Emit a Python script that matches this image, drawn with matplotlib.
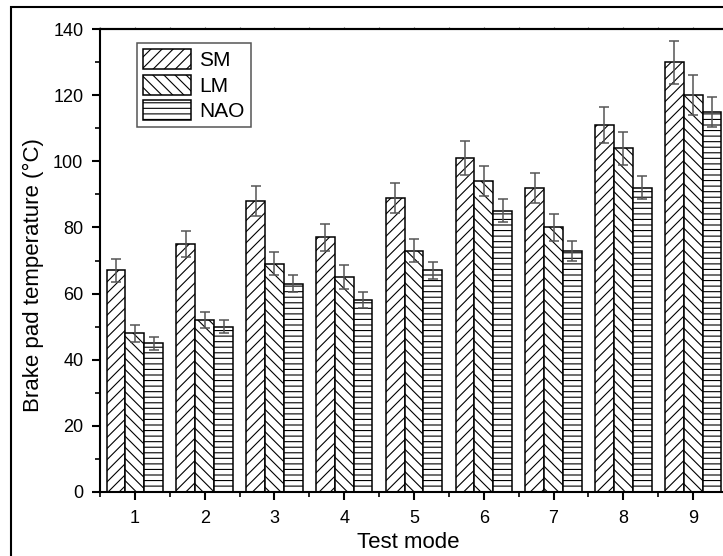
import matplotlib
matplotlib.use("Agg")
import matplotlib.pyplot as plt
import numpy as np
from matplotlib.patches import Rectangle
from matplotlib.ticker import MultipleLocator, FixedLocator

plt.rcParams['font.family'] = ['Liberation Sans', 'DejaVu Sans']
plt.rcParams['hatch.linewidth'] = 0.8

modes = [1, 2, 3, 4, 5, 6, 7, 8, 9]
series = ['SM', 'LM', 'NAO']
sm = [67, 75, 88, 77, 89, 101, 92, 111, 130]
lm = [48, 52, 69, 65, 73, 94, 80, 104, 120]
nao = [45, 50, 63, 58, 67, 85, 73, 92, 115]
sm_err = [3.5, 4, 4.5, 4, 4.5, 5, 4.5, 5.5, 6.5]
lm_err = [2.5, 2.5, 3.5, 3.5, 3.5, 4.5, 4, 5, 6]
nao_err = [2, 2, 2.5, 2.5, 2.5, 3.5, 3, 3.5, 4.5]

W, H = 723, 556
fig = plt.figure(figsize=(W / 100, H / 100), dpi=100)
L, R, T, B = 100, 728, 29, 492
ax = fig.add_axes([L / W, 1 - B / H, (R - L) / W, (B - T) / H])

x = np.array(modes, dtype=float)
bw = 0.27
hatches = ['///', '\\\\\\', '---']
vals = [sm, lm, nao]
errs = [sm_err, lm_err, nao_err]
for i, (name, v, e, h) in enumerate(zip(series, vals, errs, hatches)):
    ax.bar(x + (i - 1) * bw, v, bw, facecolor='white', edgecolor='black',
           linewidth=1.1, hatch=h, label=name, zorder=2)
    ax.errorbar(x + (i - 1) * bw, v, yerr=e, fmt='none', ecolor='#555555',
                elinewidth=1.1, capsize=3.3, capthick=1.1, zorder=3)

ax.set_xlim(0.5, 9.5)
ax.set_ylim(0, 140)
ax.set_xticks(modes)
ax.xaxis.set_minor_locator(FixedLocator(np.arange(0.5, 10, 1)))
ax.yaxis.set_major_locator(MultipleLocator(20))
ax.yaxis.set_minor_locator(MultipleLocator(10))
ax.tick_params(axis='both', which='major', direction='out', length=6, width=1.5,
               labelsize=13)
ax.tick_params(axis='both', which='minor', direction='out', length=3.5, width=1.2)
ax.tick_params(axis='y', which='major', pad=6)
ax.tick_params(axis='x', which='major', pad=7)
for s in ax.spines.values():
    s.set_linewidth(1.5)

top = ax.secondary_xaxis('top')
top.set_xticks(modes)
top.xaxis.set_minor_locator(FixedLocator(np.arange(0.5, 10, 1)))
top.tick_params(which='both', direction='out', length=1.5, width=0.8,
                color='#666666', labeltop=False)
top.spines['top'].set_linewidth(1.5)

ax.set_xlabel('Test mode', fontsize=16)
ax.set_ylabel('Brake pad temperature (°C)', fontsize=16)
ax.xaxis.set_label_coords((408 - L) / (R - L), -(543 - B) / (B - T))
ax.yaxis.set_label_coords((33 - L) / (R - L), (B - 275) / (B - T))
ax.xaxis.label.set_va('center')
ax.yaxis.label.set_va('center')

leg = ax.legend(loc='upper left', bbox_to_anchor=((137 - L) / (R - L), (B - 43) / (B - T)),
                borderaxespad=0, fontsize=15, handlelength=2.3, handleheight=1.1,
                labelspacing=0.2, handletextpad=0.4, borderpad=0.3,
                fancybox=False, framealpha=1)
leg.get_frame().set_edgecolor('#555555')
leg.get_frame().set_linewidth(1.1)

frame = Rectangle((11 / W, -0.2), 2, 1.2 - 7 / H, transform=fig.transFigure,
                  fill=False, edgecolor='black', linewidth=1.5, clip_on=False)
fig.add_artist(frame)

fig.savefig('out.png', dpi=100)
